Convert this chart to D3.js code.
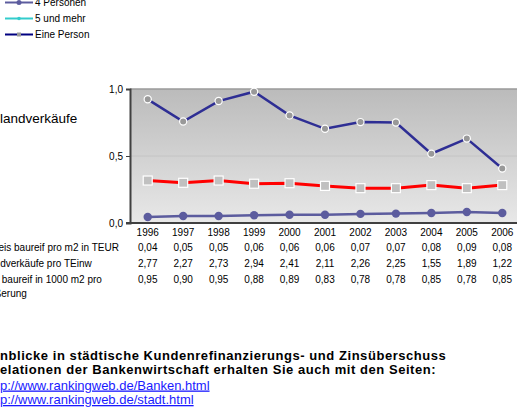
<!DOCTYPE html>
<html>
<head>
<meta charset="utf-8">
<script src="https://cdn.jsdelivr.net/npm/d3@7"></script>
<style>
  body { margin: 0; background: #fff; overflow: hidden; }
  svg { font-family: "Liberation Sans", Arial, sans-serif; display: block; }
</style>
</head>
<body>
<svg id="chart" width="517" height="413"></svg>
<script>
// categories and values
var years = ["1996","1997","1998","1999","2000","2001","2002","2003","2004","2005","2006"];
var navyLine = [0.923, 0.757, 0.91, 0.98, 0.803, 0.703, 0.753, 0.75, 0.517, 0.63, 0.407];
var redLine = [0.317, 0.30, 0.317, 0.293, 0.297, 0.277, 0.26, 0.26, 0.283, 0.26, 0.283];
var purpleLine = [0.045, 0.052, 0.052, 0.058, 0.062, 0.062, 0.068, 0.070, 0.075, 0.082, 0.075];
var yTicks = [0, 0.5, 1];
var tableLabels = [["Kaufpreis baureif pro m2 in TEUR"], ["Baulandverkäufe pro TEinw"], ["Fläche baureif in 1000 m2 pro", "Veräußerung"]];
var tableRows = [
  ["0,04","0,05","0,05","0,06","0,06","0,06","0,07","0,07","0,08","0,09","0,08"],
  ["2,77","2,27","2,73","2,94","2,41","2,11","2,26","2,25","1,55","1,89","1,22"],
  ["0,95","0,90","0,95","0,88","0,89","0,83","0,78","0,78","0,85","0,78","0,85"]
];
var legendItems = [
  {name: "4 Personen", color: "#5c5c9e", mark: "circle"},
  {name: "5 und mehr", color: "#33cccc", mark: "dot"},
  {name: "Eine Person", color: "#000080", mark: "square"}
];
var footLines = [
  "Einblicke in städtische Kundenrefinanzierungs- und  Zinsüberschuss",
  "Relationen der Bankenwirtschaft erhalten Sie auch mit den Seiten:"
];
var footHidden = [2, 1];
var links = ["http://www.rankingweb.de/Banken.html", "http://www.rankingweb.de/stadt.html"];

var svg = d3.select("#chart");

var plot = {left: 130, right: 520, top: 89, bottom: 223};

var x = d3.scaleBand().domain(years).range([plot.left, plot.right]);
var y = d3.scaleLinear().domain([0, 1]).range([plot.bottom, plot.top]);
var cx = function(d, i) { return x(years[i]) + x.bandwidth() / 2; };

// shift a text left so that its first n characters fall off the page
function hidePrefix(sel, n) {
  sel.each(function() {
    var w = n > 0 ? this.getSubStringLength(0, n) : 0;
    d3.select(this).attr("x", -w);
  });
}

// background gradient
var defs = svg.append("defs");
var grad = defs.append("linearGradient").attr("id", "bg").attr("x1", 0).attr("y1", 0).attr("x2", 0).attr("y2", 1);
grad.append("stop").attr("offset", "0%").attr("stop-color", "#bbbbbb");
grad.append("stop").attr("offset", "100%").attr("stop-color", "#e8e8e8");

svg.append("rect")
  .attr("x", plot.left).attr("y", plot.top)
  .attr("width", plot.right - plot.left).attr("height", plot.bottom - plot.top)
  .attr("fill", "url(#bg)");

// grid line at 0,5
svg.append("line")
  .attr("x1", plot.left).attr("x2", plot.right)
  .attr("y1", y(0.5)).attr("y2", y(0.5))
  .attr("stroke", "#c4c4c4").attr("stroke-width", 1);

// top border
svg.append("line")
  .attr("x1", plot.left).attr("x2", plot.right)
  .attr("y1", plot.top).attr("y2", plot.top)
  .attr("stroke", "#9a9a9a").attr("stroke-width", 1.5);

// y axis
var yAxis = d3.axisLeft(y).tickValues(yTicks).tickSize(4).tickPadding(3)
  .tickFormat(function(d) { return d3.format(".1f")(d).replace(".", ","); });
var gy = svg.append("g").attr("transform", "translate(" + plot.left + ",0)").call(yAxis);
gy.select(".domain").attr("stroke", "#404040").attr("stroke-width", 2);
gy.selectAll(".tick line").attr("stroke", "#404040");
gy.selectAll("text").attr("font-size", 10).attr("fill", "#000").attr("font-family", "Liberation Sans, Arial, sans-serif");

// x axis line
svg.append("line")
  .attr("x1", plot.left - 4).attr("x2", plot.right)
  .attr("y1", plot.bottom).attr("y2", plot.bottom)
  .attr("stroke", "#404040").attr("stroke-width", 2);

// year labels
svg.append("g").selectAll("text").data(years).enter().append("text")
  .attr("x", function(d) { return x(d) + x.bandwidth() / 2; })
  .attr("y", 235.5)
  .attr("text-anchor", "middle")
  .attr("font-size", 10)
  .text(function(d) { return d; });

// lines
var line = d3.line().x(cx).y(function(d) { return y(d); });

svg.append("path").datum(purpleLine)
  .attr("d", line).attr("fill", "none")
  .attr("stroke", "#5c5c9e").attr("stroke-width", 2.5);
svg.append("g").selectAll("circle").data(purpleLine).enter().append("circle")
  .attr("cx", cx).attr("cy", function(d) { return y(d); }).attr("r", 4.2)
  .attr("fill", "#5c5c9e");

svg.append("path").datum(redLine)
  .attr("d", line).attr("fill", "none")
  .attr("stroke", "#ff0000").attr("stroke-width", 3);
svg.append("g").selectAll("rect").data(redLine).enter().append("rect")
  .attr("x", function(d, i) { return cx(d, i) - 4.5; })
  .attr("y", function(d) { return y(d) - 4.5; })
  .attr("width", 9).attr("height", 9)
  .attr("fill", "#c0c0c0").attr("stroke", "#fff").attr("stroke-width", 1.2);

svg.append("path").datum(navyLine)
  .attr("d", line).attr("fill", "none")
  .attr("stroke", "#2e2e94").attr("stroke-width", 2.5);
svg.append("g").selectAll("circle").data(navyLine).enter().append("circle")
  .attr("cx", cx).attr("cy", function(d) { return y(d); }).attr("r", 3.6)
  .attr("fill", "#999999").attr("stroke", "#fff").attr("stroke-width", 1.2);

// data table below chart
tableRows.forEach(function(row, r) {
  svg.append("g").selectAll("text").data(row).enter().append("text")
    .attr("x", function(d, i) { return x(years[i]) + x.bandwidth() / 2; })
    .attr("y", 250.5 + r * 16)
    .attr("text-anchor", "middle")
    .attr("font-size", 10)
    .text(function(d) { return d; });
});
tableLabels.forEach(function(lab, r) {
  lab.forEach(function(t, k) {
    svg.append("text")
      .attr("x", -31).attr("y", 250.5 + r * 16 + k * 14)
      .attr("font-size", 10)
      .text(t);
  });
});

// side label
svg.append("text")
  .attr("y", 122.5)
  .attr("font-size", 13.5)
  .text("Baulandverkäufe")
  .call(hidePrefix, 3);

// legend
var leg = svg.append("g").selectAll("g").data(legendItems).enter().append("g")
  .attr("transform", function(d, i) { return "translate(0," + (2.5 + i * 16) + ")"; });
leg.append("line")
  .attr("x1", 5).attr("x2", 33).attr("y1", 0).attr("y2", 0)
  .attr("stroke", function(d) { return d.color; }).attr("stroke-width", 2);
leg.each(function(d) {
  var g = d3.select(this);
  if (d.mark === "circle") g.append("circle").attr("cx", 19).attr("r", 2.5).attr("fill", d.color);
  if (d.mark === "dot") g.append("circle").attr("cx", 19).attr("r", 1.8).attr("fill", d.color);
  if (d.mark === "square") g.append("rect").attr("x", 17).attr("y", -2).attr("width", 4).attr("height", 4).attr("fill", "#999");
});
leg.append("text")
  .attr("x", 35).attr("y", 3.5)
  .attr("font-size", 10)
  .text(function(d) { return d.name; });

// footer
svg.append("g").selectAll("text").data(footLines).enter().append("text")
  .attr("y", function(d, i) { return 359.5 + i * 14.5; })
  .attr("font-size", 13).attr("font-weight", "bold")
  .attr("letter-spacing", 0.55)
  .text(function(d) { return d; })
  .each(function(d, i) { d3.select(this).call(hidePrefix, footHidden[i]); });

svg.append("g").selectAll("text").data(links).enter().append("text")
  .attr("y", function(d, i) { return 389.5 + i * 14.5; })
  .attr("font-size", 13)
  .attr("fill", "#1a1aff")
  .attr("text-decoration", "underline")
  .text(function(d) { return d; })
  .call(hidePrefix, 3);
</script>
</body>
</html>
